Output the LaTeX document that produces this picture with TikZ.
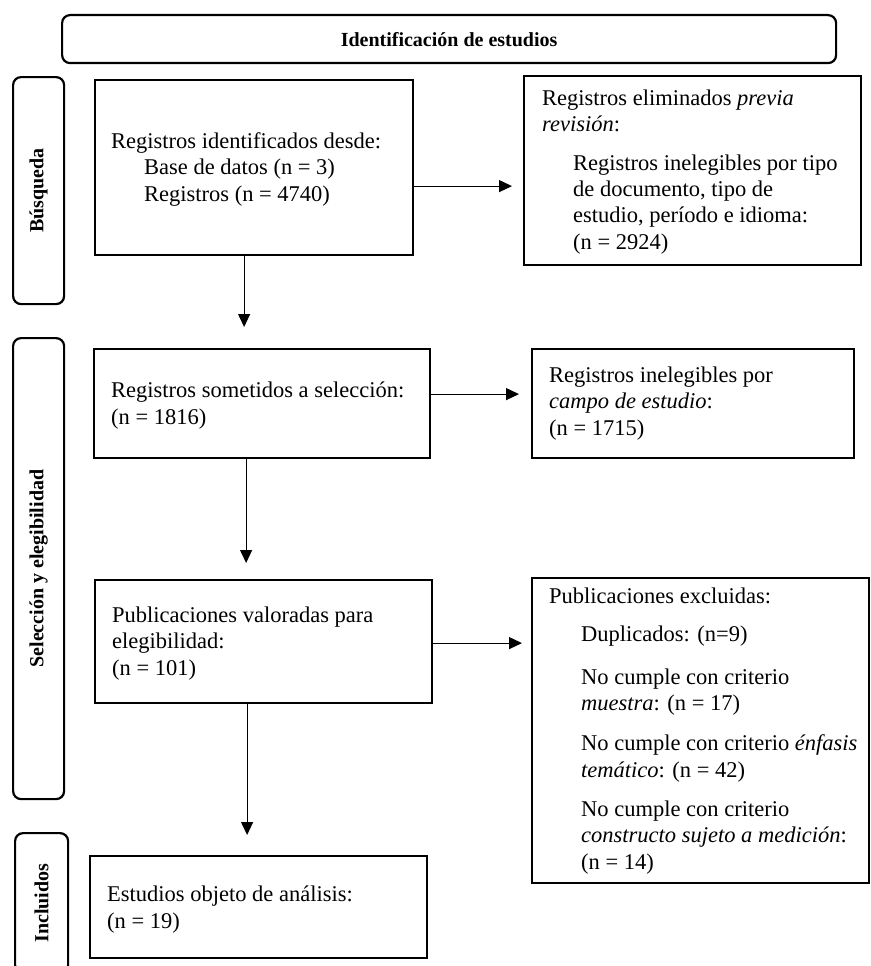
\documentclass[tikz,border=0pt]{standalone}
\usepackage{fontspec}
\setmainfont{Liberation Serif}
\usetikzlibrary{arrows.meta}
\begin{document}
\begin{tikzpicture}[x=1pt,y=-1pt,
  box/.style={draw, line width=2.2pt, anchor=north west, inner sep=0pt},
  side/.style={draw, line width=2.2pt, rounded corners=8pt, anchor=north west, inner sep=0pt},
  txt/.style={anchor=base west, inner sep=0pt, align=left, font=\fontsize{22.5}{26.3}\selectfont},
  lab/.style={inner sep=0pt, font=\bfseries\fontsize{20}{24}\selectfont, rotate=90},
  arr/.style={-{Triangle[length=13pt,width=12pt]}, line width=1.2pt}]
\useasboundingbox (0,0) rectangle (870,966);
% title and side bars
\node[side, minimum width=774pt, minimum height=48pt, font=\bfseries\fontsize{20}{24}\selectfont] (title) at (61,14) {Identificación de estudios};
\node[side, minimum width=51pt, minimum height=227pt] (s1) at (12,76) {};
\node[side, minimum width=51pt, minimum height=461pt] (s2) at (12,337) {};
\node[side, minimum width=53pt, minimum height=140pt] (s3) at (14,832) {};
\node[lab] (l1) at (s1.center) {Búsqueda};
\node[lab] (l2) at (s2.center) {Selección y elegibilidad};
\node[lab] (l3) at (s3.center) {Incluidos};
% boxes
\node[box, minimum width=318pt, minimum height=175pt] (b1) at (94,79) {};
\node[box, minimum width=337pt, minimum height=189pt] (b2) at (523,75) {};
\node[box, minimum width=336pt, minimum height=109pt] (b3) at (93,348) {};
\node[box, minimum width=322pt, minimum height=109pt] (b4) at (531,348) {};
\node[box, minimum width=337pt, minimum height=123pt] (b5) at (94,579) {};
\node[box, minimum width=337pt, minimum height=305pt] (b6) at (531,577) {};
\node[box, minimum width=337pt, minimum height=102pt] (b7) at (89,855) {};
% texts (anchored at the baseline of their last line)
\node[txt] (t1) at (111,201) {Registros identificados desde:\\
  \hspace*{33pt}Base de datos (n = 3)\\
  \hspace*{33pt}Registros (n = 4740)};
\node[txt] (t2) at (542,249) {Registros eliminados \textit{previa}\\
  \textit{revisión}:\\[12pt]
  \hspace*{31pt}Registros inelegibles por tipo\\
  \hspace*{31pt}de documento, tipo de\\
  \hspace*{31pt}estudio, período e idioma:\\
  \hspace*{31pt}(n = 2924)};
\node[txt] (t3) at (111,424) {Registros sometidos a selección:\\ (n = 1816)};
\node[txt] (t4) at (549,435) {Registros inelegibles por\\ \textit{campo de estudio}:\\ (n = 1715)};
\node[txt] (t5) at (112,675) {Publicaciones valoradas para\\ elegibilidad:\\ (n = 101)};
\node[txt] (t6) at (549,869) {Publicaciones excluidas:\\[12pt]
  \hspace*{32pt}Duplicados: (n=9)\\[16pt]
  \hspace*{32pt}No cumple con criterio\\
  \hspace*{32pt}\textit{muestra}: (n = 17)\\[14pt]
  \hspace*{32pt}No cumple con criterio \textit{énfasis}\\
  \hspace*{32pt}\textit{temático}: (n = 42)\\[13pt]
  \hspace*{32pt}No cumple con criterio\\
  \hspace*{32pt}\textit{constructo sujeto a medición}:\\
  \hspace*{32pt}(n = 14)};
\node[txt] (t7) at (107,928) {Estudios objeto de análisis:\\ (n = 19)};
% connectors
\coordinate (a1) at ([yshift=-18.5pt]b1.east);
\draw[arr, shorten >=11pt] (a1) -- (a1 -| b2.west);
\coordinate (a2) at ([xshift=-10pt]b1.south);
\draw[arr, shorten >=21pt] (a2) -- (a2 |- b3.north);
\coordinate (a3) at ([yshift=9.5pt]b3.east);
\draw[arr, shorten >=12pt] (a3) -- (a3 -| b4.west);
\coordinate (a4) at ([xshift=-16pt]b3.south);
\draw[arr, shorten >=16pt] (a4) -- (a4 |- b5.north);
\coordinate (a5) at ([yshift=-1.5pt]b5.east);
\draw[arr, shorten >=9pt] (a5) -- (a5 -| b6.west);
\coordinate (a6) at ([xshift=-16.5pt]b5.south);
\draw[arr, shorten >=20pt] (a6) -- (a6 |- b7.north);
\end{tikzpicture}
\end{document}
